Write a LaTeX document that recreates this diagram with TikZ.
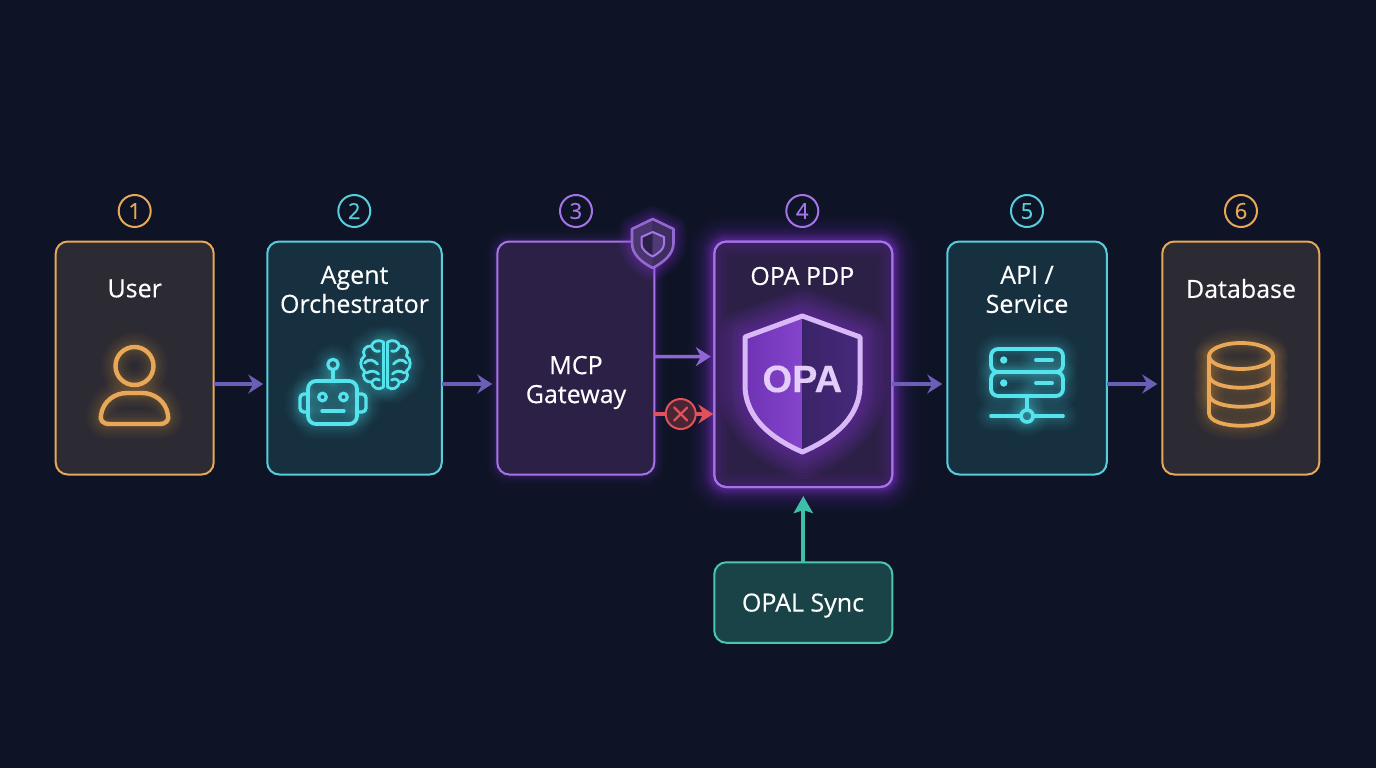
\documentclass[tikz,border=0pt]{standalone}
\usepackage{fontspec}
\setmainfont{Open Sans}
\newfontfamily\lab[FakeBold=0.35]{Open Sans}
\newfontfamily\arl[FakeBold=0.4]{Liberation Sans Bold}
\usetikzlibrary{arrows.meta,calc}
\definecolor{bgc}{HTML}{0E1426}
\definecolor{org}{HTML}{E8A857}
\definecolor{orgf}{HTML}{2C2A33}
\definecolor{cya}{HTML}{56CEDE}
\definecolor{cyaf}{HTML}{17303F}
\definecolor{neoc}{HTML}{55E4EE}
\definecolor{pur}{HTML}{A574E8}
\definecolor{purg}{HTML}{9238E8}
\definecolor{purf}{HTML}{2C2046}
\definecolor{tea}{HTML}{4CC4B2}
\definecolor{teaf}{HTML}{1A4347}
\definecolor{arr}{HTML}{6C5DB6}
\definecolor{arrp}{HTML}{8E66D6}
\definecolor{red1}{HTML}{E2505A}
\definecolor{redf}{HTML}{4A2536}
\definecolor{arrt}{HTML}{3EBFAA}
\definecolor{shl}{HTML}{D9B8F7}
\definecolor{shla}{HTML}{6F33B4}
\definecolor{shlb}{HTML}{8544CC}
\definecolor{shra}{HTML}{3A2468}
\definecolor{shrb}{HTML}{47297C}
\tikzset{
  x=1pt,y=-1pt,
  boxn/.style n args={2}{draw=#1,fill=#2,line width=2pt,rounded corners=12pt,inner sep=0pt,outer sep=0pt},
  halo/.style={preaction={draw=#1,line width=52pt,draw opacity=.018,fill=none},
               preaction={draw=#1,line width=46pt,draw opacity=.022,fill=none},
               preaction={draw=#1,line width=40pt,draw opacity=.03,fill=none},
               preaction={draw=#1,line width=34pt,draw opacity=.04,fill=none},
               preaction={draw=#1,line width=28pt,draw opacity=.05,fill=none},
               preaction={draw=#1,line width=23pt,draw opacity=.06,fill=none},
               preaction={draw=#1,line width=18pt,draw opacity=.08,fill=none},
               preaction={draw=#1,line width=14pt,draw opacity=.1,fill=none},
               preaction={draw=#1,line width=10pt,draw opacity=.12,fill=none},
               preaction={draw=#1,line width=6pt,draw opacity=.16,fill=none}},
  softhalo/.style={preaction={draw=#1,line width=24pt,draw opacity=.02,fill=none},
               preaction={draw=#1,line width=18pt,draw opacity=.03,fill=none},
               preaction={draw=#1,line width=13pt,draw opacity=.04,fill=none},
               preaction={draw=#1,line width=9pt,draw opacity=.05,fill=none},
               preaction={draw=#1,line width=5pt,draw opacity=.08,fill=none}},
  badge/.style={circle,draw=#1,line width=2pt,text=#1,minimum size=32pt,inner sep=0pt,font=\lab\fontsize{22}{24}\selectfont},
  lbl/.style={text=white,align=center,inner sep=0pt,font=\lab\fontsize{25}{29}\selectfont},
  flow/.style={draw=#1,line width=3.4pt,-{Stealth[length=15pt,width=19pt,inset=5pt]}},
  ico/.style={line cap=round,line join=round},
}
\newcommand\neonpath[4][]{%
  \foreach \w in {30,26,22,18,15,12,10,8,6}{\draw[ico,#1,draw=#2,draw opacity=.028,line width=\w pt] #4;}
  \draw[ico,#1,draw=#2,line width=#3] #4;}
\newcommand\brainL{(-2,-23) .. controls (-7,-26) and (-13,-24) .. (-14,-19) .. controls (-20,-20) and (-24,-14) .. (-21,-9) .. controls (-26,-6) and (-26,3) .. (-21,6) .. controls (-24,12) and (-20,18) .. (-14,17) .. controls (-13,23) and (-7,26) .. (-2,22) -- cycle
  (-14,-19) .. controls (-12,-14) and (-9,-13) .. (-6,-14)
  (-21,-2) .. controls (-16,-7) and (-12,-5) .. (-8,-1)
  (-19,8) .. controls (-14,5) and (-10,6) .. (-7,9)
  (-13,16) .. controls (-10,13) and (-8,14) .. (-6,15)}
\newcommand\bigshield{(802.3,316) -- (860,337) -- (860,385) .. controls (860,420) and (830,440) .. (802.3,452) .. controls (775,440) and (745,420) .. (745,385) -- (745,337) -- cycle}
\newcommand\smallshield{(652.7,219) -- (673.5,229) -- (673.5,243) .. controls (673.5,254) and (664,262) .. (652.7,268) .. controls (641,262) and (632,254) .. (632,243) -- (632,229) -- cycle}
\begin{document}
\begin{tikzpicture}
\useasboundingbox (0,0) rectangle (1376,768);
\fill[bgc] (0,0) rectangle (1376,768);
% boxes
\node[boxn={pur}{purf},halo=purg,minimum width=178pt,minimum height=245.5pt] (opa) at (803.3,364.3) {};
\node[boxn={org}{orgf},minimum width=158pt,minimum height=233pt] (user) at (134.7,358) {};
\node[boxn={cya}{cyaf},minimum width=174.5pt,minimum height=233pt] (orch) at (354.5,358) {};
\node[boxn={pur}{purf},softhalo=purg,minimum width=157pt,minimum height=233pt] (mcp) at (575.8,358) {};
\node[boxn={cya}{cyaf},minimum width=159.5pt,minimum height=233pt] (api) at (1027,358) {};
\node[boxn={org}{orgf},minimum width=157pt,minimum height=233pt] (db) at (1240.8,358) {};
\node[boxn={tea}{teaf},minimum width=178pt,minimum height=80.5pt] (opal) at (803.3,602.5) {};
% inner glow of the OPA box
\begin{scope}
\clip[rounded corners=12pt] (opa.south west) rectangle (opa.north east);
\foreach \w in {30,24,18,13,8}{\draw[purg,draw opacity=.035,line width=\w pt,rounded corners=12pt] (opa.south west) rectangle (opa.north east);}
\end{scope}
\draw[pur,line width=2pt,rounded corners=12pt] (opa.south west) rectangle (opa.north east);
% badges
\node[badge=org] (b1) at (134.7,211) {1};
\node[badge=cya] (b2) at (354.3,211) {2};
\node[badge=pur] (b3) at (576,211) {3};
\node[badge=pur] (b4) at (802.3,211) {4};
\node[badge=cya] (b5) at (1027,211) {5};
\node[badge=org] (b6) at (1241,211) {6};
% labels
\node[lbl] (l1) at (134.7,288.5) {User};
\node[lbl] (l2) at (354.5,289.5) {Agent\\Orchestrator};
\node[lbl] (l3) at (576,382.5) {MCP\\Gateway};
\node[lbl] (l4) at (802.3,276) {OPA PDP};
\node[lbl] (l5) at (1027,289.5) {API /\\Service};
\node[lbl] (l6) at (1241,288.5) {Database};
\node[lbl] (l7) at (803,605.5) {OPAL Sync};
% connectors
\draw[flow=arr] ([yshift=-26pt]user.east) -- ([yshift=-26pt,xshift=-4pt]orch.west);
\draw[flow=arr] ([yshift=-26pt]orch.east) -- ([yshift=-26pt,xshift=-5pt]mcp.west);
\draw[flow=arrp] ([yshift=1.3pt]mcp.east) -- ([yshift=7.7pt,xshift=-3.5pt]opa.west);
\draw[flow=red1] ([yshift=-56pt]mcp.east) -- ([yshift=-49.7pt,xshift=-1pt]opa.west);
\node[circle,draw=red1,fill=redf,line width=2pt,minimum size=30pt,inner sep=0pt] (deny) at (680.7,414) {};
\draw[red1,line width=2.2pt,line cap=round] ([shift={(-6.5pt,-6.5pt)}]deny.center) -- ([shift={(6.5pt,6.5pt)}]deny.center);
\draw[red1,line width=2.2pt,line cap=round] ([shift={(-6.5pt,6.5pt)}]deny.center) -- ([shift={(6.5pt,-6.5pt)}]deny.center);
\draw[flow=arr] ([yshift=-26pt]opa.east |- user.east) -- ([yshift=-26pt,xshift=-5pt]api.west);
\draw[flow=arr] ([yshift=-26pt]api.east) -- ([yshift=-26pt,xshift=-5pt]db.west);
\draw[draw=arrt,line width=4pt,-{Stealth[length=17pt,width=19pt,inset=3pt]}] (opal.north) -- ([yshift=-9pt]opa.south);
% user icon
\neonpath{org}{4.4pt}{(134.5,366) circle[radius=19]}
\neonpath{org}{4.4pt}{(110,424) .. controls (102,424) and (100,420) .. (101,415) .. controls (103,401) and (115,393) .. (127,393) -- (142,393) .. controls (154,393) and (166,401) .. (168,415) .. controls (169,420) and (167,424) .. (159,424) -- cycle}
% robot icon
\neonpath[rounded corners=8pt]{neoc}{3.8pt}{(308,381) rectangle (357,424)}
\neonpath[rounded corners=4pt]{neoc}{3.4pt}{(308,394) -- (300,394) -- (300,412) -- (308,412)}
\neonpath[rounded corners=4pt]{neoc}{3.4pt}{(357,394) -- (366,394) -- (366,412) -- (357,412)}
\neonpath{neoc}{3.2pt}{(322.5,397) circle[radius=3.8]}
\neonpath{neoc}{3.2pt}{(343.5,397) circle[radius=3.8]}
\neonpath{neoc}{3.4pt}{(322,411) -- (344,411)}
\neonpath{neoc}{3.2pt}{(333,380) -- (333,371)}
\neonpath{neoc}{3.2pt}{(333,364.5) circle[radius=5.2]}
% brain icon
\begin{scope}[shift={(385.5,365)}]
\neonpath{neoc}{2.8pt}{\brainL}
\begin{scope}[xscale=-1]
\neonpath{neoc}{2.8pt}{\brainL}
\end{scope}
\end{scope}
% small shield
\foreach \w in {26,22,18,14,11,8,5}{\draw[purg,line width=\w pt,draw opacity=.05,line join=round] \smallshield;}
\fill[purf!75!pur] (652.7,219) -- (632,229) -- (632,243) .. controls (632,254) and (641,262) .. (652.7,268) -- cycle;
\fill[purf!85!pur] (652.7,219) -- (673.5,229) -- (673.5,243) .. controls (673.5,254) and (664,262) .. (652.7,268) -- cycle;
\draw[pur!90!black,line width=2.6pt,line join=round] \smallshield;
\fill[purf] (652.7,232) -- (641.5,237) -- (641.5,244) .. controls (641.5,249) and (646,253) .. (652.7,256.5) -- cycle;
\fill[purf!70!pur] (652.7,232) -- (664,237) -- (664,244) .. controls (664,249) and (659,253) .. (652.7,256.5) -- cycle;
\draw[pur,line width=2pt,line join=round] (652.7,232) -- (664,237) -- (664,244) .. controls (664,249) and (659,253) .. (652.7,256.5) .. controls (646,253) and (641.5,249) .. (641.5,244) -- (641.5,237) -- cycle;
% big OPA shield
\foreach \w in {54,48,42,36,30,25,20,15,10}{\draw[purg,line width=\w pt,draw opacity=.055,line join=round] \bigshield;}
\shade[left color=shla,right color=shlb] (802.3,316) -- (745,337) -- (745,385) .. controls (745,420) and (775,440) .. (802.3,452) -- cycle;
\shade[left color=shra,right color=shrb] (802.3,316) -- (860,337) -- (860,385) .. controls (860,420) and (830,440) .. (802.3,452) -- cycle;
\draw[shl,line width=5pt,line join=round] \bigshield;
\node[text=shl!70!white,inner sep=0pt,font=\arl\fontsize{38}{40}\selectfont] (opat) at (802.3,379) {OPA};
% server icon
\neonpath[rounded corners=7pt]{neoc}{3.8pt}{(991,349) rectangle (1063,372)}
\neonpath[rounded corners=7pt]{neoc}{3.8pt}{(991,372) rectangle (1063,396)}
\fill[neoc] (1003.7,360) circle[radius=3.7] (1003.7,383) circle[radius=3.7];
\neonpath{neoc}{3.8pt}{(1036,360) -- (1052,360)}
\neonpath{neoc}{3.8pt}{(1036,383) -- (1052,383)}
\neonpath{neoc}{3.6pt}{(1027,396) -- (1027,410)}
\neonpath{neoc}{3.6pt}{(991,416) -- (1021,416)}
\neonpath{neoc}{3.6pt}{(1033,416) -- (1063,416)}
\neonpath{neoc}{3.6pt}{(1027,416) circle[radius=6]}
% database icon
\neonpath{org}{3.8pt}{(1241,356) ellipse[x radius=32,y radius=13]}
\neonpath{org}{3.8pt}{(1209,356) -- (1209,413) .. controls (1209,430) and (1273,430) .. (1273,413) -- (1273,356)}
\neonpath{org}{3.8pt}{(1209,375) .. controls (1209,392) and (1273,392) .. (1273,375)}
\neonpath{org}{3.8pt}{(1209,394) .. controls (1209,411) and (1273,411) .. (1273,394)}
\end{tikzpicture}
\end{document}
